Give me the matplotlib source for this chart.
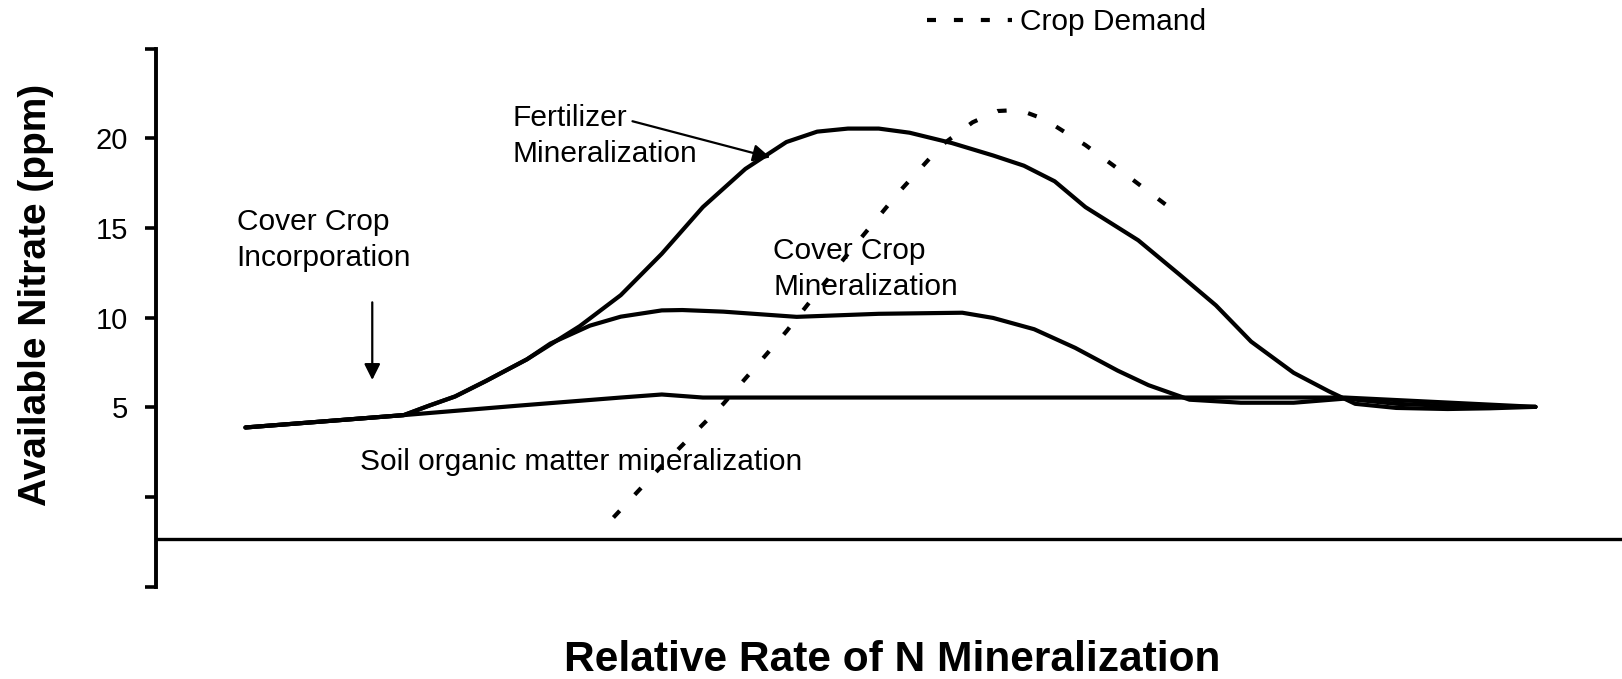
import matplotlib.pyplot as plt
from matplotlib.lines import Line2D

plt.rcParams['font.family'] = ['Liberation Sans', 'DejaVu Sans']

# curves (x in arbitrary time units 0-100, y in ppm)
soil_x = [6.1, 10.5, 16.9, 24.6, 31.7, 34.5, 37.3, 69.1, 81.1, 94.1]
soil_y = [3.87, 4.15, 4.56, 5.08, 5.54, 5.71, 5.54, 5.54, 5.54, 5.02]

cover_x = [6.1, 10.5, 16.9, 18.6, 20.4, 22.5, 25.3, 26.9, 29.6, 31.7, 34.5, 35.9,
           38.7, 43.7, 49.3, 55.0, 57.1, 59.9, 62.7, 65.6, 67.7, 70.5, 74.0,
           77.6, 81.1, 84.6, 88.1, 94.1]
cover_y = [3.87, 4.15, 4.56, 5.08, 5.60, 6.46, 7.67, 8.55, 9.55, 10.05, 10.40, 10.42,
           10.33, 10.04, 10.21, 10.27, 9.98, 9.35, 8.31, 7.04, 6.23, 5.42, 5.25,
           5.25, 5.48, 5.19, 5.08, 5.02]

fert_x = [6.1, 10.5, 16.9, 18.6, 20.4, 22.5, 25.3, 28.9, 31.7, 34.5, 37.3, 40.2,
          43.0, 45.1, 47.2, 49.3, 51.4, 54.3, 57.1, 59.2, 61.3, 63.4, 67.0,
          69.8, 72.3, 74.7, 77.6, 80.0, 81.8, 84.6, 88.1, 91.0, 94.1]
fert_y = [3.87, 4.15, 4.56, 5.08, 5.60, 6.46, 7.67, 9.52, 11.25, 13.56, 16.16, 18.29,
          19.79, 20.37, 20.54, 20.54, 20.31, 19.73, 19.04, 18.47, 17.60, 16.16, 14.31,
          12.41, 10.68, 8.66, 6.92, 5.89, 5.19, 4.96, 4.90, 4.94, 5.02]

demand_x = [31.2, 34.5, 38.7, 43.0, 47.2, 50.7, 53.6, 55.7, 57.4, 58.9, 60.6,
            63.4, 66.3, 69.1]
demand_y = [-1.15, 1.73, 5.19, 9.23, 13.56, 17.02, 19.62, 20.89, 21.52, 21.58,
            21.06, 19.62, 17.89, 16.16]

ytick_vals = [-5, 0, 5, 10, 15, 20, 25]
ytick_labels = ['', '', '5', '10', '15', '20', '']

fig = plt.figure(figsize=(16.22, 6.79), dpi=100)
ax = fig.add_axes([0.0962, 0.1362, 0.9038, 0.7922])
ax.set_xlim(0, 100)
ax.set_ylim(-5, 25)

lw = 3.0
for xs, ys in [(soil_x, soil_y), (cover_x, cover_y), (fert_x, fert_y)]:
    ax.plot(xs, ys, color='black', lw=lw, solid_capstyle='round',
            solid_joinstyle='round')
ax.plot(demand_x, demand_y, color='black', lw=lw, dashes=(2.2, 5.3))

# horizontal axis line
ax.axhline(-2.37, color='black', lw=2.4)

for side in ['top', 'right', 'bottom']:
    ax.spines[side].set_visible(False)
ax.spines['left'].set_linewidth(2.8)
ax.spines['left'].set_bounds(-5, 25)
ax.set_xticks([])
ax.set_yticks(ytick_vals)
ax.set_yticklabels(ytick_labels)
ax.tick_params(axis='y', length=8, width=2.6, pad=12, labelsize=21)

ax.set_ylabel('Available Nitrate (ppm)', fontsize=28, fontweight='bold')
ax.yaxis.set_label_coords(-0.082, 0.542)
ax.yaxis.label.set_va('center')
ax.set_xlabel('Relative Rate of N Mineralization', fontsize=30.6, fontweight='bold')
ax.xaxis.set_label_coords(0.502, -0.137)
ax.xaxis.label.set_va('center')

fs = 21.5
ax.text(5.5, 14.34, 'Cover Crop\nIncorporation', fontsize=fs, va='center',
        ha='left', linespacing=1.35)
ax.text(42.1, 12.72, 'Cover Crop\nMineralization', fontsize=fs, va='center',
        ha='left', linespacing=1.35)
ax.text(24.3, 20.14, 'Fertilizer\nMineralization', fontsize=fs, va='center',
        ha='left', linespacing=1.35)
ax.text(13.9, 1.96, 'Soil organic matter mineralization', fontsize=fs,
        va='center', ha='left')

ax.annotate('', xy=(41.9, 18.93), xytext=(32.5, 20.95),
            arrowprops=dict(arrowstyle='-|>', color='black', lw=1.6,
                            mutation_scale=26, shrinkA=0, shrinkB=0))
ax.annotate('', xy=(14.75, 6.52), xytext=(14.75, 10.85),
            arrowprops=dict(arrowstyle='-|>', color='black', lw=1.6,
                            mutation_scale=24, shrinkA=0, shrinkB=0))

demand_handle = Line2D([], [], color='black', lw=lw, dashes=(2.16, 4.3))
ax.legend([demand_handle], ['Crop Demand'], loc='center left',
          bbox_to_anchor=(927 / 1622, 1 - 22 / 679),
          bbox_transform=fig.transFigure, frameon=False, fontsize=fs,
          handlelength=2.85, handletextpad=0.27, borderpad=0, borderaxespad=0)

fig.savefig('out.png', dpi=100)
